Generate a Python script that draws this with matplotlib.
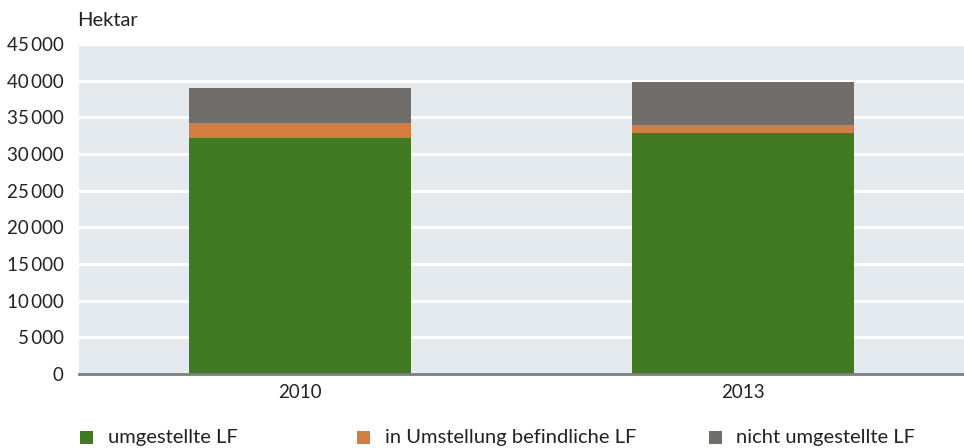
import matplotlib
matplotlib.use("Agg")
import matplotlib.pyplot as plt
from matplotlib.patches import Rectangle

plt.rcParams['font.family'] = ['Lato', 'DejaVu Sans']

# Data (Hektar)
years = ['2010', '2013']
umgestellt = [32170, 32850]
in_umstellung = [2050, 1100]
nicht_umgestellt = [4780, 5870]

labels = ['umgestellte LF', 'in Umstellung befindliche LF', 'nicht umgestellte LF']
colors = ['#427a23', '#d57d3f', '#716d6a']
yticks = list(range(0, 45001, 5000))

fig = plt.figure(figsize=(9.64, 4.48), dpi=100)
ax = fig.add_axes([0.082, 0.165, 0.918, 0.737])
ax.set_facecolor('#e5eaef')

x = range(len(years))
bottom2 = [a + b for a, b in zip(umgestellt, in_umstellung)]
ax.bar(x, umgestellt, width=0.502, color=colors[0], zorder=3)
ax.bar(x, in_umstellung, width=0.502, bottom=umgestellt, color=colors[1], zorder=3)
ax.bar(x, nicht_umgestellt, width=0.502, bottom=bottom2, color=colors[2], zorder=3)

ax.set_xlim(-0.5, 1.5)
ax.set_ylim(0, 45000)
ax.set_yticks(yticks)
ax.set_yticklabels([f"{v:,}".replace(",", "\u2009") for v in yticks])
ax.set_xticks(list(x))
ax.set_xticklabels(years)
ax.yaxis.grid(True, color='white', linewidth=2.2, zorder=1)
ax.tick_params(axis='both', length=0, labelsize=13.5, colors='#222222')
ax.tick_params(axis='y', pad=11)
ax.tick_params(axis='x', pad=7)
for s in ['top', 'right', 'left']:
    ax.spines[s].set_visible(False)
ax.spines['bottom'].set_color('#7f7f7f')
ax.spines['bottom'].set_linewidth(2)
ax.spines['bottom'].set_zorder(4)

fig.text(0.080, 0.955, 'Hektar', fontsize=14.5, color='#222222', va='center', ha='left')

# legend along the bottom
leg_x = [0.083, 0.370, 0.735]
for lx, lab, c in zip(leg_x, labels, colors):
    fig.patches.append(Rectangle((lx, 0.010), 0.0135, 0.029, transform=fig.transFigure,
                                 facecolor=c, edgecolor='none'))
    fig.text(lx + 0.029, 0.024, lab, fontsize=14.5, color='#222222', va='center', ha='left')

fig.savefig('out.png', dpi=100)
